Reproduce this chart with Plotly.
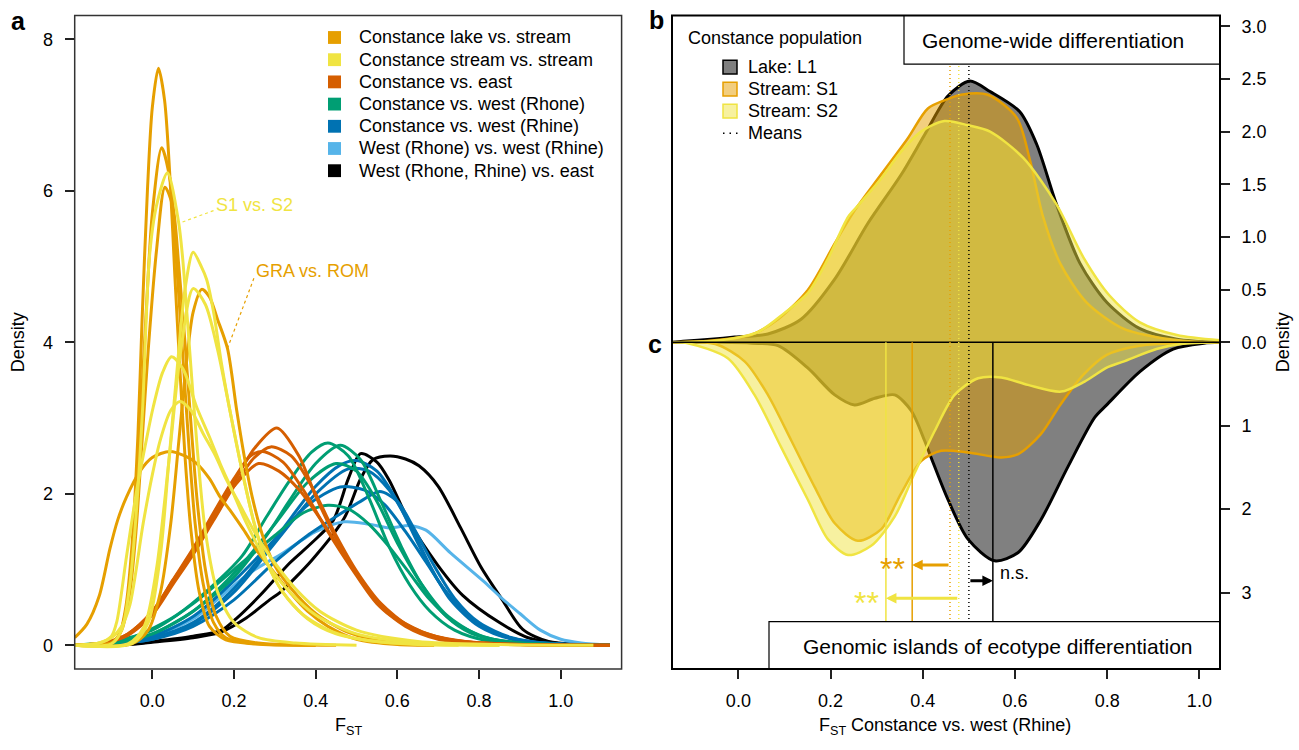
import plotly.graph_objects as go

W, H = 1299, 750
FONT = "Liberation Sans, Arial, Helvetica, sans-serif"

def px(x):
    return x / W

def py(y):
    return 1 - y / H

ORANGE = "#E69F00"
YELLOW = "#F0E442"
VERMIL = "#D55E00"
GREEN = "#009E73"
BLUE = "#0072B2"
SKY = "#56B4E9"
BLACK = "#000000"

# ---------------- Panel a: density curves of FST (x list, y list) ----------------
lake_vs_stream = [
    ([-0.19, -0.1, -0.08, -0.065, -0.05, -0.035, -0.025, -0.012, 0.0, 0.015, 0.03, 0.045, 0.055, 0.065, 0.08, 0.095, 0.115, 0.14, 0.18, 0.25, 0.4],
     [0, 0.03, 0.15, 0.5, 1.3, 2.8, 4.3, 6.0, 7.1, 7.62, 7.2, 6.0, 4.9, 3.9, 2.5, 1.5, 0.7, 0.25, 0.07, 0.02, 0]),
    ([-0.19, -0.1, -0.08, -0.06, -0.045, -0.03, -0.015, 0.0, 0.023, 0.045, 0.06, 0.075, 0.09, 0.105, 0.125, 0.15, 0.18, 0.25, 0.4],
     [0, 0.03, 0.15, 0.6, 1.5, 2.9, 4.4, 5.7, 6.57, 6.1, 5.0, 3.8, 2.6, 1.6, 0.8, 0.3, 0.1, 0.02, 0]),
    ([-0.19, -0.1, -0.075, -0.055, -0.04, -0.025, -0.01, 0.01, 0.031, 0.05, 0.065, 0.08, 0.095, 0.11, 0.13, 0.155, 0.19, 0.26, 0.45],
     [0, 0.03, 0.2, 0.7, 1.5, 2.7, 3.9, 5.2, 6.05, 5.8, 5.0, 4.0, 2.9, 1.9, 1.0, 0.4, 0.12, 0.03, 0]),
    ([-0.19, -0.16, -0.13, -0.104, -0.085, -0.063, -0.03, 0.0, 0.043, 0.08, 0.109, 0.14, 0.166, 0.195, 0.223, 0.26, 0.3, 0.34, 0.38, 0.43, 0.5, 0.6, 0.69],
     [0.1, 0.28, 0.65, 1.27, 1.65, 1.96, 2.3, 2.48, 2.56, 2.5, 2.4, 2.2, 1.96, 1.75, 1.53, 1.22, 0.95, 0.68, 0.45, 0.25, 0.08, 0.01, 0]),
    ([-0.19, -0.05, -0.01, 0.02, 0.045, 0.065, 0.085, 0.1, 0.121, 0.14, 0.16, 0.184, 0.207, 0.225, 0.245, 0.27, 0.3, 0.34, 0.4, 0.48, 0.58, 0.69],
     [0, 0.02, 0.2, 0.7, 1.6, 2.7, 3.8, 4.4, 4.70, 4.6, 4.3, 3.92, 3.09, 2.5, 1.95, 1.45, 1.05, 0.75, 0.42, 0.17, 0.04, 0]),
]

stream_vs_stream = [
    ([-0.19, -0.1, -0.075, -0.055, -0.04, -0.024, -0.007, 0.01, 0.037, 0.064, 0.074, 0.09, 0.11, 0.13, 0.16, 0.2, 0.26, 0.35, 0.5],
     [0, 0.02, 0.2, 0.8, 1.7, 3.1, 5.13, 5.8, 6.24, 5.6, 5.13, 4.0, 2.6, 1.5, 0.7, 0.3, 0.1, 0.03, 0]),
    ([-0.19, -0.05, -0.01, 0.02, 0.04, 0.06, 0.08, 0.1, 0.12, 0.133, 0.15, 0.17, 0.19, 0.22, 0.25, 0.28, 0.32, 0.37, 0.44, 0.52, 0.65, 0.75],
     [0, 0.02, 0.3, 1.2, 2.4, 3.6, 4.7, 5.19, 5.0, 4.83, 4.4, 3.7, 3.1, 2.3, 1.6, 1.1, 0.7, 0.4, 0.18, 0.07, 0.01, 0]),
    ([-0.19, -0.06, -0.02, 0.01, 0.04, 0.07, 0.1, 0.13, 0.16, 0.19, 0.22, 0.25, 0.28, 0.32, 0.38, 0.45, 0.55, 0.7, 0.85],
     [0, 0.02, 0.25, 1.0, 2.4, 3.9, 4.71, 4.5, 3.9, 3.1, 2.3, 1.6, 1.1, 0.7, 0.35, 0.15, 0.05, 0.01, 0]),
    ([-0.19, -0.13, -0.1, -0.087, -0.063, -0.038, -0.015, 0.002, 0.025, 0.047, 0.075, 0.109, 0.14, 0.166, 0.195, 0.223, 0.25, 0.28, 0.337, 0.4, 0.5, 0.65, 0.85],
     [0, 0.03, 0.12, 0.31, 1.18, 2.05, 2.7, 3.14, 3.6, 3.81, 3.65, 3.14, 2.75, 2.4, 2.05, 1.7, 1.4, 1.09, 0.7, 0.4, 0.15, 0.03, 0]),
    ([-0.19, -0.13, -0.1, -0.075, -0.055, -0.022, 0.0, 0.019, 0.045, 0.068, 0.095, 0.125, 0.155, 0.182, 0.215, 0.247, 0.275, 0.305, 0.35, 0.41, 0.5, 0.65, 0.85, 1.08],
     [0, 0.03, 0.1, 0.25, 0.53, 1.62, 2.25, 2.7, 3.1, 3.22, 3.1, 2.79, 2.5, 2.18, 1.85, 1.53, 1.28, 1.05, 0.75, 0.45, 0.2, 0.05, 0.01, 0]),
]

constance_vs_east = [
    ([-0.19, -0.12, -0.06, 0.0, 0.05, 0.1, 0.15, 0.2, 0.25, 0.305, 0.36, 0.4, 0.46, 0.51, 0.565, 0.65, 0.76, 0.9, 1.12],
     [0, 0.03, 0.14, 0.42, 0.82, 1.22, 1.68, 2.15, 2.6, 2.87, 2.49, 1.97, 1.31, 0.88, 0.48, 0.18, 0.05, 0.01, 0]),
    ([-0.19, -0.12, -0.06, 0.0, 0.05, 0.1, 0.15, 0.2, 0.25, 0.29, 0.34, 0.39, 0.45, 0.5, 0.56, 0.63, 0.72, 0.85, 1.12],
     [0, 0.03, 0.13, 0.4, 0.8, 1.2, 1.65, 2.1, 2.48, 2.62, 2.5, 2.1, 1.45, 0.98, 0.55, 0.25, 0.08, 0.02, 0]),
    ([-0.19, -0.12, -0.06, 0.0, 0.05, 0.1, 0.15, 0.2, 0.24, 0.27, 0.32, 0.37, 0.43, 0.49, 0.55, 0.62, 0.7, 0.82, 1.12],
     [0, 0.03, 0.15, 0.44, 0.86, 1.28, 1.75, 2.2, 2.5, 2.56, 2.42, 2.05, 1.5, 1.0, 0.55, 0.25, 0.08, 0.02, 0]),
    ([-0.19, -0.12, -0.06, 0.0, 0.05, 0.1, 0.15, 0.2, 0.26, 0.31, 0.36, 0.42, 0.48, 0.54, 0.6, 0.68, 0.78, 0.9, 1.12],
     [0, 0.03, 0.15, 0.45, 0.85, 1.25, 1.7, 2.1, 2.4, 2.3, 2.05, 1.6, 1.1, 0.65, 0.35, 0.14, 0.04, 0.01, 0]),
]

constance_vs_rhone = [
    ([-0.19, -0.1, -0.05, 0.0, 0.06, 0.14, 0.22, 0.28, 0.337, 0.39, 0.43, 0.48, 0.53, 0.58, 0.63, 0.68, 0.74, 0.82, 0.95, 1.12],
     [0, 0.03, 0.1, 0.22, 0.4, 0.75, 1.18, 1.7, 2.18, 2.55, 2.67, 2.5, 1.95, 1.3, 0.8, 0.45, 0.2, 0.06, 0.01, 0]),
    ([-0.19, -0.1, 0.0, 0.1, 0.2, 0.28, 0.337, 0.4, 0.46, 0.51, 0.56, 0.61, 0.66, 0.72, 0.78, 0.86, 1.0, 1.12],
     [0, 0.02, 0.15, 0.45, 0.9, 1.45, 1.92, 2.4, 2.64, 2.45, 1.9, 1.3, 0.8, 0.38, 0.16, 0.05, 0.01, 0]),
    ([-0.19, -0.1, 0.0, 0.1, 0.2, 0.3, 0.38, 0.45, 0.5, 0.55, 0.6, 0.66, 0.72, 0.8, 0.9, 1.12],
     [0, 0.03, 0.15, 0.45, 0.95, 1.6, 2.15, 2.4, 2.3, 1.9, 1.35, 0.8, 0.4, 0.13, 0.03, 0]),
    ([-0.19, -0.1, 0.0, 0.1, 0.2, 0.3, 0.37, 0.43, 0.48, 0.53, 0.58, 0.63, 0.68, 0.74, 0.82, 0.92, 1.12],
     [0, 0.05, 0.2, 0.55, 1.0, 1.45, 1.75, 1.85, 1.8, 1.6, 1.3, 0.95, 0.6, 0.3, 0.1, 0.02, 0]),
]

constance_vs_rhine = [
    ([-0.19, -0.1, 0.0, 0.1, 0.2, 0.3, 0.4, 0.46, 0.5, 0.55, 0.6, 0.65, 0.7, 0.76, 0.83, 0.92, 1.05, 1.12],
     [0, 0.02, 0.1, 0.3, 0.75, 1.4, 2.1, 2.38, 2.44, 2.3, 1.9, 1.35, 0.85, 0.45, 0.18, 0.05, 0.01, 0]),
    ([-0.19, -0.1, 0.0, 0.1, 0.2, 0.3, 0.4, 0.48, 0.53, 0.58, 0.63, 0.68, 0.73, 0.8, 0.88, 1.0, 1.12],
     [0, 0.02, 0.08, 0.28, 0.7, 1.35, 2.0, 2.33, 2.3, 2.05, 1.6, 1.05, 0.6, 0.25, 0.08, 0.01, 0]),
    ([-0.19, -0.1, 0.0, 0.1, 0.2, 0.3, 0.38, 0.46, 0.52, 0.57, 0.62, 0.67, 0.72, 0.78, 0.86, 0.95, 1.12],
     [0, 0.03, 0.12, 0.38, 0.85, 1.4, 1.85, 2.09, 2.05, 1.85, 1.5, 1.1, 0.7, 0.35, 0.12, 0.03, 0]),
    ([-0.19, -0.1, 0.0, 0.1, 0.2, 0.3, 0.38, 0.45, 0.51, 0.557, 0.6, 0.64, 0.69, 0.74, 0.8, 0.88, 0.98, 1.12],
     [0, 0.02, 0.08, 0.25, 0.6, 1.1, 1.45, 1.7, 1.9, 2.03, 1.9, 1.55, 1.05, 0.62, 0.3, 0.1, 0.02, 0]),
]

rhone_vs_rhine = [
    ([-0.19, -0.1, 0.0, 0.1, 0.18, 0.24, 0.32, 0.4, 0.47, 0.53, 0.58, 0.63, 0.67, 0.73, 0.81, 0.86, 0.9, 0.95, 1.0, 1.05, 1.12],
     [0, 0.02, 0.12, 0.35, 0.7, 0.96, 1.22, 1.5, 1.63, 1.6, 1.55, 1.58, 1.52, 1.22, 0.85, 0.6, 0.42, 0.2, 0.08, 0.03, 0]),
]

west_vs_east = [
    ([-0.19, -0.06, 0.0, 0.1, 0.17, 0.207, 0.264, 0.337, 0.39, 0.443, 0.48, 0.51, 0.55, 0.58, 0.63, 0.7, 0.76, 0.85, 0.92, 1.0, 1.12],
     [0, 0.01, 0.05, 0.12, 0.2, 0.36, 0.66, 1.09, 1.35, 1.65, 2.2, 2.53, 2.42, 2.18, 1.62, 1.05, 0.66, 0.3, 0.1, 0.02, 0]),
    ([-0.19, -0.06, 0.0, 0.1, 0.166, 0.23, 0.287, 0.313, 0.39, 0.47, 0.51, 0.54, 0.582, 0.62, 0.653, 0.7, 0.755, 0.805, 0.857, 0.907, 0.97, 1.05, 1.12],
     [0, 0.01, 0.04, 0.1, 0.17, 0.36, 0.6, 0.7, 1.12, 1.68, 2.2, 2.45, 2.5, 2.46, 2.37, 2.1, 1.55, 1.03, 0.6, 0.21, 0.05, 0.01, 0]),
]

legend_a_labels = ["Constance lake vs. stream", "Constance stream vs. stream", "Constance vs. east",
                   "Constance vs. west (Rhone)", "Constance vs. west (Rhine)",
                   "West (Rhone) vs. west (Rhine)", "West (Rhone, Rhine) vs. east"]
legend_a_colors = [ORANGE, YELLOW, VERMIL, GREEN, BLUE, SKY, BLACK]

# ---------------- Panel b: genome-wide densities ----------------
gw_L1_x = [-0.144, -0.12, -0.06, -0.008, 0.064, 0.136, 0.209, 0.281, 0.353, 0.404, 0.455, 0.502, 0.546, 0.61, 0.647, 0.69, 0.741, 0.799, 0.871, 0.951, 1.044]
gw_L1_y = [0, 0.01, 0.03, 0.05, 0.08, 0.22, 0.60, 1.13, 1.59, 1.97, 2.34, 2.48, 2.38, 2.19, 1.88, 1.31, 0.75, 0.38, 0.13, 0.03, 0]
gw_S1_x = [-0.144, -0.08, 0.027, 0.086, 0.151, 0.209, 0.252, 0.309, 0.368, 0.411, 0.455, 0.483, 0.541, 0.604, 0.633, 0.661, 0.698, 0.755, 0.835, 0.92, 1.02, 1.044]
gw_S1_y = [0, 0.01, 0.07, 0.22, 0.5, 0.94, 1.25, 1.59, 1.94, 2.22, 2.31, 2.35, 2.35, 2.13, 1.72, 1.19, 0.75, 0.38, 0.13, 0.04, 0.0, 0]
gw_S2_x = [-0.144, -0.04, 0.043, 0.10, 0.151, 0.194, 0.238, 0.26, 0.309, 0.353, 0.396, 0.447, 0.498, 0.546, 0.618, 0.69, 0.748, 0.806, 0.871, 0.951, 1.044]
gw_S2_y = [0, 0.02, 0.1, 0.28, 0.47, 0.79, 1.19, 1.3, 1.55, 1.81, 2.0, 2.10, 2.06, 2.0, 1.75, 1.31, 0.81, 0.44, 0.19, 0.07, 0.02]

# ---------------- Panel c: genomic islands densities ----------------
isl_L1_x = [-0.144, -0.04, 0.03, 0.086, 0.151, 0.209, 0.252, 0.296, 0.339, 0.375, 0.404, 0.418, 0.455, 0.498, 0.556, 0.607, 0.656, 0.715, 0.773, 0.799, 0.871, 0.943, 1.01, 1.044]
isl_L1_y = [0, 0.0, 0.01, 0.04, 0.31, 0.63, 0.75, 0.67, 0.63, 0.82, 1.18, 1.38, 1.89, 2.36, 2.62, 2.52, 2.13, 1.49, 0.9, 0.75, 0.35, 0.08, 0.01, 0]
isl_S1_x = [-0.144, -0.05, 0.014, 0.064, 0.115, 0.165, 0.209, 0.259, 0.31, 0.353, 0.397, 0.44, 0.498, 0.57, 0.607, 0.656, 0.698, 0.748, 0.799, 0.87, 0.95, 1.044]
isl_S1_y = [0, 0.02, 0.23, 0.63, 1.18, 1.73, 2.17, 2.38, 2.24, 1.81, 1.42, 1.3, 1.32, 1.38, 1.34, 1.1, 0.75, 0.39, 0.15, 0.04, 0.01, 0]
isl_S2_x = [-0.144, -0.11, -0.023, 0.035, 0.093, 0.151, 0.194, 0.238, 0.288, 0.339, 0.382, 0.426, 0.469, 0.52, 0.57, 0.628, 0.70, 0.751, 0.80, 0.835, 0.907, 0.96, 1.044]
isl_S2_y = [0, 0.01, 0.19, 0.63, 1.26, 1.89, 2.36, 2.55, 2.44, 2.09, 1.57, 1.06, 0.63, 0.43, 0.42, 0.51, 0.59, 0.47, 0.3, 0.23, 0.08, 0.02, 0]

pop_names = ["Lake: L1", "Stream: S1", "Stream: S2"]
pop_line = [BLACK, ORANGE, YELLOW]
pop_fill = ["rgb(128,128,128)", "rgba(230,159,0,0.5)", "rgba(240,228,66,0.5)"]
pop_legend_fill = ["#7F7F7F", "#F2CE7F", "#F7F1A0"]
genome_means = [0.50, 0.459, 0.478]      # L1, S1, S2
island_means = [0.552, 0.377, 0.32]      # L1, S1, S2
arrow_levels = [2.86, 2.67, 3.07]        # panel c density level of each arrow
arrow_labels = ["n.s.", "**", "**"]
label_x = [0.564, 0.335, 0.277]
label_y = [2.77, 2.72, 3.12]

fig = go.Figure()

def add_lines(curves, color):
    for xs, ys in curves:
        fig.add_trace(go.Scatter(x=xs, y=ys, mode="lines", xaxis="x", yaxis="y",
                                 line=dict(color=color, width=3, shape="spline", smoothing=0.8),
                                 showlegend=False, hoverinfo="skip"))

add_lines(west_vs_east, BLACK)
add_lines(rhone_vs_rhine, SKY)
add_lines(constance_vs_rhine, BLUE)
add_lines(constance_vs_rhone, GREEN)
add_lines(constance_vs_east, VERMIL)
add_lines(lake_vs_stream, ORANGE)
add_lines(stream_vs_stream, YELLOW)

gw = [(gw_L1_x, gw_L1_y), (gw_S1_x, gw_S1_y), (gw_S2_x, gw_S2_y)]
isl = [(isl_L1_x, isl_L1_y), (isl_S1_x, isl_S1_y), (isl_S2_x, isl_S2_y)]
for i in range(3):
    w = 3 if i == 0 else 2.5
    fig.add_trace(go.Scatter(x=gw[i][0], y=gw[i][1], mode="lines", xaxis="x2", yaxis="y2",
                             fill="tozeroy", fillcolor=pop_fill[i],
                             line=dict(color=pop_line[i], width=w, shape="spline", smoothing=0.8),
                             showlegend=False, hoverinfo="skip"))
for i in range(3):
    w = 3 if i == 0 else 2.5
    fig.add_trace(go.Scatter(x=isl[i][0], y=isl[i][1], mode="lines", xaxis="x3", yaxis="y3",
                             fill="tozeroy", fillcolor=pop_fill[i],
                             line=dict(color=pop_line[i], width=w, shape="spline", smoothing=0.8),
                             showlegend=False, hoverinfo="skip"))

shapes = []
annotations = []

# frames
shapes.append(dict(type="rect", xref="paper", yref="paper", x0=px(74.7), x1=px(621.6), y0=py(678), y1=py(15.7),
                   line=dict(color="#333333", width=1.5), layer="above"))
shapes.append(dict(type="line", xref="paper", yref="paper", x0=px(672), x1=px(1220), y0=py(347), y1=py(347),
                   line=dict(color="black", width=1.5), layer="above"))

# mean lines (dotted) and island mean lines (solid)
for m, c in zip(genome_means, pop_line):
    shapes.append(dict(type="line", xref="x2", yref="paper", x0=m, x1=m, y0=py(67), y1=py(630),
                       line=dict(color=c, width=1.5, dash="1px,3px"), layer="above"))
for m, c in zip(island_means, pop_line):
    shapes.append(dict(type="line", xref="x3", yref="paper", x0=m, x1=m, y0=py(347), y1=py(630),
                       line=dict(color=c, width=1.5), layer="above"))

# boxes
shapes.append(dict(type="rect", xref="paper", yref="paper", x0=px(904), x1=px(1220), y0=py(65), y1=py(15.7),
                   line=dict(color="black", width=1.2), fillcolor="white", layer="above"))
shapes.append(dict(type="rect", xref="paper", yref="paper", x0=px(769), x1=px(1220), y0=py(678), y1=py(630),
                   line=dict(color="black", width=1.2), fillcolor="white", layer="above"))
shapes.append(dict(type="rect", xref="paper", yref="paper", x0=px(672), x1=px(1220), y0=py(678), y1=py(15.7),
                   line=dict(color="black", width=2), layer="above"))

# arrows and significance labels
for m0, m1, lv, c, lab, lx, ly in zip(genome_means, island_means, arrow_levels, pop_line,
                                       arrow_labels, label_x, label_y):
    annotations.append(dict(x=m1, y=lv, ax=m0, ay=lv, xref="x3", yref="y3", axref="x3", ayref="y3",
                            text="", showarrow=True, arrowhead=2, arrowsize=0.7, arrowwidth=3,
                            arrowcolor=c, standoff=0))
    if lab == "n.s.":
        annotations.append(dict(x=lx, y=ly, xref="x3", yref="y3", text=lab, showarrow=False,
                                xanchor="left", yanchor="middle", font=dict(size=18, color="black", family=FONT)))
    else:
        annotations.append(dict(x=lx, y=ly, xref="x3", yref="y3", text=lab, showarrow=False,
                                xanchor="center", yanchor="middle", font=dict(size=32, color=c, family=FONT)))

# panel a legend
for i, (lab, col) in enumerate(zip(legend_a_labels, legend_a_colors)):
    yc = 38 + i * 22.5
    shapes.append(dict(type="rect", xref="paper", yref="paper", x0=px(328), x1=px(341),
                       y0=py(yc + 6.5), y1=py(yc - 6.5), fillcolor=col, line=dict(width=0)))
    annotations.append(dict(x=px(357), y=py(yc), xref="paper", yref="paper", text=lab, showarrow=False,
                            xanchor="left", yanchor="middle", font=dict(size=18, color="black", family=FONT)))

# panel b legend
annotations.append(dict(x=px(686), y=py(39), xref="paper", yref="paper", text="Constance population",
                        showarrow=False, xanchor="left", yanchor="middle",
                        font=dict(size=18, color="black", family=FONT)))
for i in range(3):
    yc = 68 + i * 22.3
    shapes.append(dict(type="rect", xref="paper", yref="paper", x0=px(723), x1=px(737),
                       y0=py(yc + 7), y1=py(yc - 7), fillcolor=pop_legend_fill[i],
                       line=dict(color=pop_line[i] if i else "black", width=1.5)))
    annotations.append(dict(x=px(746), y=py(yc), xref="paper", yref="paper", text=pop_names[i],
                            showarrow=False, xanchor="left", yanchor="middle",
                            font=dict(size=18, color="black", family=FONT)))
shapes.append(dict(type="line", xref="paper", yref="paper", x0=px(723), x1=px(740), y0=py(135), y1=py(135),
                   line=dict(color="black", width=1.5, dash="1.5px,5px")))
annotations.append(dict(x=px(746), y=py(135), xref="paper", yref="paper", text="Means", showarrow=False,
                        xanchor="left", yanchor="middle", font=dict(size=18, color="black", family=FONT)))

# box texts
annotations.append(dict(x=px(1053), y=py(41), xref="paper", yref="paper", text="Genome-wide differentiation",
                        showarrow=False, xanchor="center", yanchor="middle",
                        font=dict(size=21, color="black", family=FONT)))
annotations.append(dict(x=px(998), y=py(655), xref="paper", yref="paper",
                        text="Genomic islands of ecotype differentiation",
                        showarrow=False, xanchor="center", yanchor="middle",
                        font=dict(size=21, color="black", family=FONT)))

# panel a curve labels with dotted leaders
shapes.append(dict(type="line", xref="x", yref="y", x0=0.074, y0=5.59, x1=0.15, y1=5.74,
                   line=dict(color=YELLOW, width=1.2, dash="dot")))
annotations.append(dict(x=0.152, y=5.82, xref="x", yref="y", text="S1 vs. S2", showarrow=False,
                        xanchor="left", yanchor="middle", font=dict(size=18, color=YELLOW, family=FONT)))
shapes.append(dict(type="line", xref="x", yref="y", x0=0.184, y0=3.92, x1=0.249, y1=4.85,
                   line=dict(color=ORANGE, width=1.2, dash="dot")))
annotations.append(dict(x=0.249, y=4.94, xref="x", yref="y", text="GRA vs. ROM", showarrow=False,
                        xanchor="left", yanchor="middle", font=dict(size=18, color=ORANGE, family=FONT)))

# panel labels & axis titles
for lab, xx, yy in [("a", 18.7, 21), ("b", 656, 20), ("c", 655, 349)]:
    annotations.append(dict(x=px(xx), y=py(yy), xref="paper", yref="paper", text="<b>%s</b>" % lab,
                            showarrow=False, xanchor="center", yanchor="middle",
                            font=dict(size=25, color="black", family=FONT)))
annotations.append(dict(x=px(18), y=py(347), xref="paper", yref="paper", text="Density", textangle=-90,
                        showarrow=False, xanchor="center", yanchor="middle",
                        font=dict(size=18, color="black", family=FONT)))
annotations.append(dict(x=px(1283), y=py(347), xref="paper", yref="paper", text="Density", textangle=-90,
                        showarrow=False, xanchor="center", yanchor="middle",
                        font=dict(size=18, color="black", family=FONT)))
annotations.append(dict(x=px(348), y=py(736), xref="paper", yref="paper", text="F<sub>ST</sub>",
                        showarrow=False, xanchor="center", yanchor="middle",
                        font=dict(size=18, color="black", family=FONT)))
annotations.append(dict(x=px(945), y=py(736), xref="paper", yref="paper",
                        text="F<sub>ST</sub> Constance vs. west (Rhine)",
                        showarrow=False, xanchor="center", yanchor="middle",
                        font=dict(size=18, color="black", family=FONT)))

xt = [0.0, 0.2, 0.4, 0.6, 0.8, 1.0]
xt_txt = ["%.1f" % v for v in xt]
common = dict(showgrid=False, zeroline=False, showline=False, ticks="outside", ticklen=9, tickwidth=1.5,
              tickcolor="#222", tickfont=dict(size=18, color="black", family=FONT))

fig.update_layout(
    width=W, height=H, margin=dict(l=0, r=0, t=0, b=0),
    paper_bgcolor="white", plot_bgcolor="white",
    font=dict(family=FONT, color="black"),
    xaxis=dict(domain=[px(74.7), px(621.6)], range=[-0.190, 1.149], anchor="y",
               tickvals=xt, ticktext=xt_txt, ticklabelstandoff=6, **common),
    yaxis=dict(domain=[py(678), py(15.7)], range=[-0.3127, 8.317], anchor="x",
               tickvals=[0, 2, 4, 6, 8], ticktext=["0", "2", "4", "6", "8"], ticklabelstandoff=8, **common),
    xaxis2=dict(domain=[px(672), px(1220)], range=[-0.144, 1.0447], anchor="y2",
                showticklabels=False, showgrid=False, zeroline=False, showline=False, ticks=""),
    yaxis2=dict(domain=[py(347), py(15.7)], range=[0, 3.102], anchor="x2", side="right",
                tickvals=[0, 0.5, 1, 1.5, 2, 2.5, 3], ticktext=["0.0", "0.5", "1.0", "1.5", "2.0", "2.5", "3.0"],
                ticklabelstandoff=8, **common),
    xaxis3=dict(domain=[px(672), px(1220)], range=[-0.144, 1.0447], anchor="y3",
                tickvals=xt, ticktext=xt_txt, ticklabelstandoff=6, **common),
    yaxis3=dict(domain=[py(678), py(347)], range=[3.917, 0], anchor="x3", side="right",
                tickvals=[1, 2, 3], ticktext=["1", "2", "3"], ticklabelstandoff=8, **common),
    shapes=shapes, annotations=annotations,
)

fig.write_html("out.html", config={"displayModeBar": False},
               post_script="document.body.style.margin='0';document.body.style.overflow='hidden';")
